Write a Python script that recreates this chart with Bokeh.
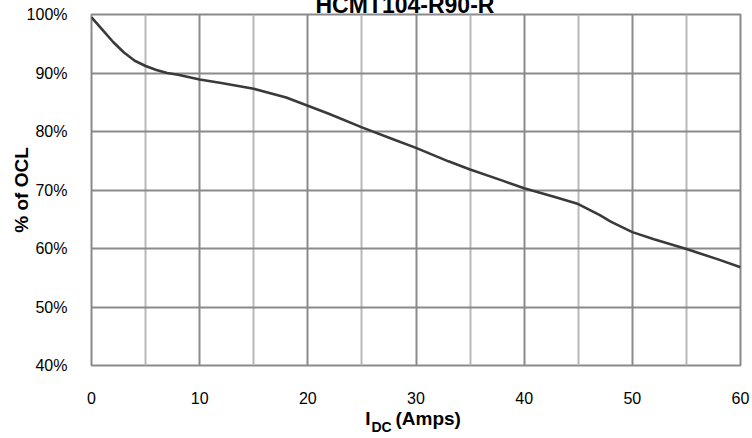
from bokeh.plotting import figure
from bokeh.models import FixedTicker, PrintfTickFormatter, Range1d, LinearAxis, Title
from bokeh.embed import file_html
from bokeh.resources import INLINE

# ---- data ----
current_amps = [0, 1, 2, 3, 4, 5, 6, 7, 8, 10, 12, 15, 18, 20, 22, 25, 28, 30,
                33, 35, 38, 40, 43, 45, 47, 48, 50, 52, 55, 58, 60]
pct_ocl = [99.5, 97.4, 95.3, 93.5, 92.1, 91.2, 90.5, 90.0, 89.7, 88.9, 88.3, 87.3,
           85.8, 84.4, 83.0, 80.7, 78.6, 77.2, 74.9, 73.5, 71.6, 70.3, 68.7, 67.6,
           65.7, 64.6, 62.8, 61.6, 59.9, 58.1, 56.8]
x_ticks = [0, 10, 20, 30, 40, 50, 60]
x_minor = [5, 15, 25, 35, 45, 55]
y_ticks = [40, 50, 60, 70, 80, 90, 100]
title_text = "HCMT104-R90-R"
y_title = "% of OCL"
x_title_main = "I"
x_title_sub = "DC"
x_title_rest = "(Amps)"

FONT = "Liberation Sans"

p = figure(width=752, height=438, output_backend="svg", toolbar_location=None,
           x_range=Range1d(0, 60), y_range=Range1d(40, 100),
           min_border_left=91, min_border_right=12, min_border_top=14,
           min_border_bottom=73)
p.background_fill_color = "white"
p.border_fill_color = "white"
p.outline_line_color = "#8a8a8a"
p.outline_line_width = 2


def plain_axis(ax, size, bold=False):
    ax.axis_line_color = None
    ax.major_tick_line_color = None
    ax.minor_tick_line_color = None
    ax.major_tick_in = 0
    ax.major_tick_out = 0
    ax.minor_tick_in = 0
    ax.minor_tick_out = 0
    ax.major_label_text_font = FONT
    ax.major_label_text_font_size = size
    ax.major_label_text_color = "#000000"
    if bold:
        ax.major_label_text_font_style = "bold"


# main axes
p.xaxis.ticker = FixedTicker(ticks=x_ticks, minor_ticks=x_minor)
p.yaxis.ticker = FixedTicker(ticks=y_ticks)
p.yaxis.formatter = PrintfTickFormatter(format="%d%%")
plain_axis(p.xaxis[0], "16px")
plain_axis(p.yaxis[0], "16px")
p.yaxis.major_label_standoff = 24
p.xaxis.major_label_standoff = 26

# y axis title
p.yaxis.axis_label = y_title
p.yaxis.axis_label_text_font = FONT
p.yaxis.axis_label_text_font_style = "bold"
p.yaxis.axis_label_text_font_size = "19px"
p.yaxis.axis_label_text_color = "#000000"
p.yaxis.axis_label_standoff = -8

# x axis title "I_DC (Amps)" built from two extra label rows under the axis
i_pos, amps_pos, dc_pos = 25.55, 31.13, 26.81
ax_main = LinearAxis(ticker=FixedTicker(ticks=[i_pos, amps_pos]),
                     major_label_overrides={i_pos: x_title_main,
                                            amps_pos: x_title_rest})
plain_axis(ax_main, "19px", bold=True)
ax_main.major_label_standoff = 1
p.add_layout(ax_main, "below")

ax_sub = LinearAxis(ticker=FixedTicker(ticks=[dc_pos]),
                    major_label_overrides={dc_pos: x_title_sub})
plain_axis(ax_sub, "14px", bold=True)
ax_sub.major_label_standoff = -13
p.add_layout(ax_sub, "below")

# grids
p.xgrid.grid_line_color = "#8a8a8a"
p.xgrid.grid_line_width = 2
p.xgrid.minor_grid_line_color = "#b8b8b8"
p.xgrid.minor_grid_line_width = 2
p.ygrid.grid_line_color = "#8a8a8a"
p.ygrid.grid_line_width = 2

# curve
p.line(current_amps, pct_ocl, line_color="#3a3a3a", line_width=2.6)

# title: partly cut by the top edge, as in the reference
p.add_layout(Title(text=title_text, align="left", offset=224, vertical_align="top",
                   standoff=-892, text_font=FONT, text_font_style="bold",
                   text_font_size="23px", text_color="#000000"), "below")

open("out.html", "w").write(file_html(p, INLINE))
